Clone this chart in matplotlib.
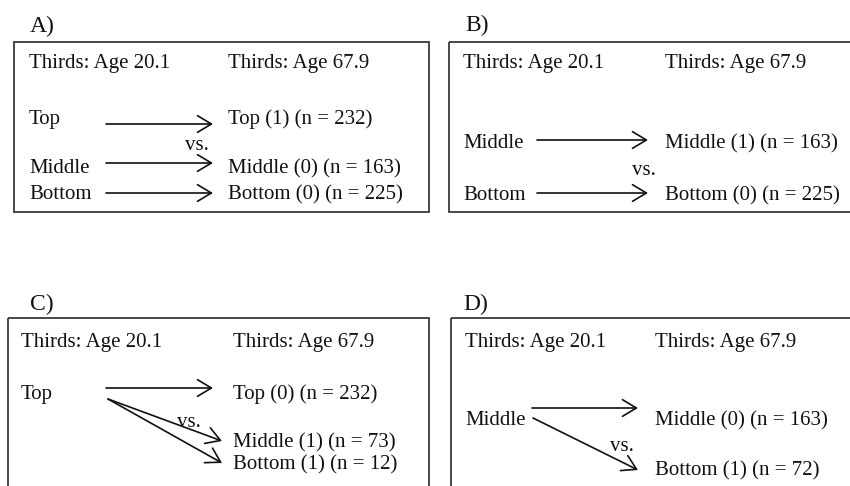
import matplotlib.pyplot as plt
from matplotlib.patches import Rectangle

# text content of the four panels
panel_labels = ['A)', 'B)', 'C)', 'D)']
header_from = 'Thirds: Age 20.1'
header_to = 'Thirds: Age 67.9'
start_groups = [['Top', 'Middle', 'Bottom'], ['Middle', 'Bottom'], ['Top'], ['Middle']]
end_groups = [['Top', 'Middle', 'Bottom'], ['Middle', 'Bottom'],
              ['Top', 'Middle', 'Bottom'], ['Middle', 'Bottom']]
end_codes = [[1, 0, 0], [1, 0], [0, 1, 1], [0, 1]]
end_n = [[232, 163, 225], [163, 225], [232, 73, 12], [163, 72]]

# layout in pixel coordinates (850 x 486 canvas, y downwards)
layout = [
    dict(box=(14, 42, 415, 170), label=(30, 32), head_y=68, x0=29, x1=228,
         start_y=[124, 173, 199], end_y=[124, 173, 199],
         arrows=[((106, 124), (213, 124)), ((106, 163), (213, 163)), ((106, 193), (213, 193))],
         vs=(185, 150)),
    dict(box=(449, 42, 420, 170), label=(465, 31), head_y=68, x0=463, x1=665,
         start_y=[148, 200], end_y=[148, 200],
         arrows=[((537, 140), (648, 140)), ((537, 193), (648, 193))],
         vs=(632, 175)),
    dict(box=(8, 318, 421, 190), label=(30, 310), head_y=347, x0=21, x1=233,
         start_y=[399], end_y=[399, 447, 469],
         arrows=[((106, 388), (213, 388)), ((108, 399), (222, 441)), ((108, 399), (222, 463))],
         vs=(177, 427)),
    dict(box=(451, 318, 420, 190), label=(463, 310), head_y=347, x0=465, x1=655,
         start_y=[425], end_y=[425, 475],
         arrows=[((532, 408), (638, 408)), ((533, 418), (638, 470))],
         vs=(610, 451)),
]

plt.rcParams['font.family'] = ['Liberation Serif', 'DejaVu Serif']
fs = 15
col = '#111111'

fig = plt.figure(figsize=(8.5, 4.86), dpi=100)
ax = fig.add_axes([0, 0, 1, 1])
ax.set_xlim(0, 850)
ax.set_ylim(486, 0)
ax.axis('off')

for i, lay in enumerate(layout):
    bx, by, bw, bh = lay['box']
    ax.add_patch(Rectangle((bx, by), bw, bh, fill=False, ec='#3a3a3a', lw=1.3))
    ax.text(lay['label'][0], lay['label'][1], panel_labels[i], fontsize=17,
            color=col, va='baseline')
    ax.text(lay['x0'], lay['head_y'], header_from, fontsize=fs, color=col, va='baseline')
    ax.text(lay['x1'], lay['head_y'], header_to, fontsize=fs, color=col, va='baseline')
    for name, y in zip(start_groups[i], lay['start_y']):
        ax.text(lay['x0'], y, name, fontsize=fs, color=col, va='baseline')
    for name, code, n, y in zip(end_groups[i], end_codes[i], end_n[i], lay['end_y']):
        ax.text(lay['x1'], y, f'{name} ({code}) (n = {n})', fontsize=fs,
                color=col, va='baseline')
    for start, end in lay['arrows']:
        ax.annotate('', xy=end, xytext=start,
                    arrowprops=dict(arrowstyle='->, head_length=0.5, head_width=0.3',
                                    lw=1.2, color=col,
                                    shrinkA=0, shrinkB=0, mutation_scale=20))
    ax.text(lay['vs'][0], lay['vs'][1], 'vs.', fontsize=fs, color=col, va='baseline')

fig.savefig('out.png', dpi=100)
